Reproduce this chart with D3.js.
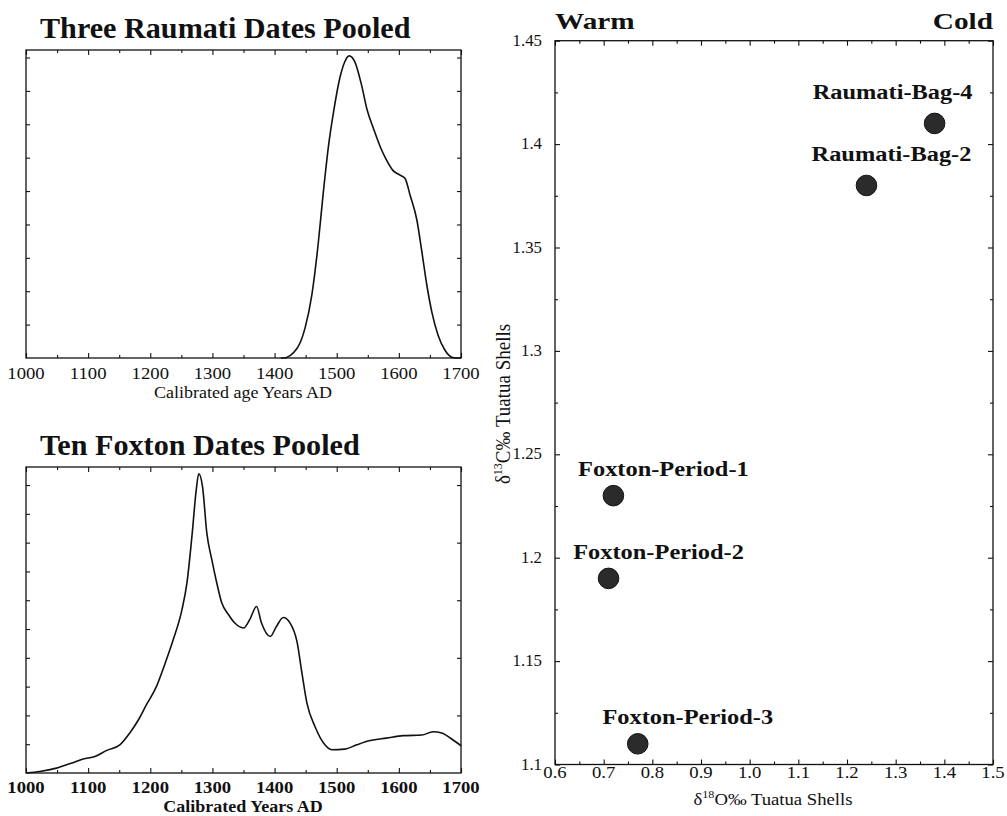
<!DOCTYPE html>
<html><head><meta charset="utf-8">
<script src="https://cdn.jsdelivr.net/npm/d3@7"></script>
<style>
body{margin:0;background:#fff}
svg{display:block}
text{font-family:"Liberation Serif","Times New Roman","DejaVu Serif",serif;fill:#111}
</style>
</head><body>
<svg id="chart" width="1007" height="816"></svg>
<script>
// ---------- DATA ----------
const yearTicks = [1000, 1100, 1200, 1300, 1400, 1500, 1600, 1700];

// Three Raumati dates pooled (relative probability, 0..1 of panel height)
const raumatiYears   = [1410, 1414, 1436, 1449, 1460, 1470, 1478, 1487, 1495, 1505, 1513, 1520, 1529, 1540, 1549, 1559, 1570, 1580, 1590, 1602, 1610, 1618, 1629, 1637, 1645, 1653, 1663, 1674, 1688, 1700];
const raumatiDensity = [0, 0, 0.031, 0.097, 0.205, 0.367, 0.529, 0.692, 0.800, 0.909, 0.962, 0.981, 0.962, 0.886, 0.805, 0.746, 0.686, 0.643, 0.610, 0.594, 0.583, 0.529, 0.448, 0.345, 0.237, 0.150, 0.075, 0.026, 0.001, 0];

// Ten Foxton dates pooled (relative probability, 0..1 of panel height)
const foxtonYears   = [1001, 1022, 1049, 1074, 1092, 1111, 1130, 1151, 1167, 1181, 1193, 1210, 1224, 1237, 1251, 1259, 1267, 1274, 1278, 1284, 1291, 1299, 1307, 1315, 1326, 1336, 1350, 1360, 1371, 1379, 1393, 1403, 1414, 1425, 1436, 1444, 1452, 1465, 1481, 1492, 1513, 1532, 1554, 1580, 1607, 1637, 1655, 1669, 1685, 1700];
const foxtonDensity = [0, 0.005, 0.016, 0.033, 0.046, 0.054, 0.074, 0.092, 0.131, 0.174, 0.220, 0.283, 0.359, 0.436, 0.534, 0.621, 0.773, 0.926, 0.978, 0.937, 0.784, 0.697, 0.621, 0.556, 0.517, 0.490, 0.474, 0.501, 0.544, 0.490, 0.446, 0.479, 0.508, 0.490, 0.430, 0.327, 0.229, 0.152, 0.092, 0.076, 0.078, 0.092, 0.106, 0.114, 0.122, 0.124, 0.135, 0.131, 0.111, 0.089];

// Isotope scatter
const sampleNames = ["Raumati-Bag-4", "Raumati-Bag-2", "Foxton-Period-1", "Foxton-Period-2", "Foxton-Period-3"];
const d18O = [1.38, 1.24, 0.72, 0.71, 0.77];
const d13C = [1.41, 1.38, 1.23, 1.19, 1.11];
const d18OTicks = [0.6, 0.7, 0.8, 0.9, 1.0, 1.1, 1.2, 1.3, 1.4, 1.5];
const d18OTickLabels = ["0.6", "0.7", "0.8", "0.9", "1.0", "1.1", "1.2", "1.3", "1.4", "1.5"];
const d13CTicks = [1.1, 1.15, 1.2, 1.25, 1.3, 1.35, 1.4, 1.45];
const d13CTickLabels = ["1.1", "1.15", "1.2", "1.25", "1.3", "1.35", "1.4", "1.45"];

// ---------- STYLE / LAYOUT ----------
const INK = "#111";
const labelStyle = { // label placement relative to point (px)
  "Raumati-Bag-4": [-42, -24],
  "Raumati-Bag-2": [25, -24],
  "Foxton-Period-1": [50, -20],
  "Foxton-Period-2": [50, -19],
  "Foxton-Period-3": [50, -20]
};

const svg = d3.select("#chart");

function txt(g, x, y, s, o) {
  o = o || {};
  return g.append("text")
    .attr("transform", `translate(${x},${y}) scale(${o.sx || 1},1)`)
    .attr("text-anchor", o.anchor || "middle")
    .attr("font-size", o.size || 16)
    .attr("font-weight", o.weight || "normal")
    .text(s);
}

function frame(g, x, y) {
  const [x0, x1] = x.range(), [y0, y1] = y.range();
  g.append("rect").attr("x", x0).attr("y", y1).attr("width", x1 - x0).attr("height", y0 - y1)
    .attr("fill", "none").attr("stroke", INK).attr("stroke-width", 1.3);
}

function styleAxis(sel) {
  sel.select(".domain").remove();
  sel.selectAll("line").attr("stroke", INK).attr("stroke-width", 1.1);
}

// ---------- LEFT DENSITY PANELS ----------
function densityPanel(cfg) {
  const g = svg.append("g");
  const x = d3.scaleLinear().domain([1000, 1700]).range([26, 461]);
  const y = d3.scaleLinear().domain([0, 1]).range([cfg.bottom, cfg.top]);
  const minor = d3.range(1050, 1700, 100);

  g.append("g").attr("transform", `translate(0,${cfg.bottom})`)
    .call(d3.axisBottom(x).tickValues(yearTicks).tickSize(-5).tickFormat("")).call(styleAxis);
  g.append("g").attr("transform", `translate(0,${cfg.bottom})`)
    .call(d3.axisBottom(x).tickValues(minor).tickSize(-3).tickFormat("")).call(styleAxis);
  g.append("g").attr("transform", `translate(0,${cfg.top})`)
    .call(d3.axisTop(x).tickValues(yearTicks).tickSize(-5).tickFormat("")).call(styleAxis);
  g.append("g").attr("transform", `translate(0,${cfg.top})`)
    .call(d3.axisTop(x).tickValues(minor).tickSize(-3).tickFormat("")).call(styleAxis);

  const yt = d3.range(cfg.yStep, 0.999, cfg.yStep);
  g.append("g").attr("transform", "translate(26,0)")
    .call(d3.axisLeft(y).tickValues(yt).tickSize(-4).tickFormat("")).call(styleAxis);
  g.append("g").attr("transform", "translate(461,0)")
    .call(d3.axisRight(y).tickValues(yt.filter((d, i) => i % cfg.rightEvery === cfg.rightEvery - 1)).tickSize(-4).tickFormat("")).call(styleAxis);

  frame(g, x, y);

  const line = d3.line().x((d, i) => x(cfg.years[i])).y(d => y(d)).curve(d3.curveMonotoneX);
  g.append("path").datum(cfg.values).attr("d", line)
    .attr("fill", "none").attr("stroke", INK).attr("stroke-width", 1.6);

  yearTicks.forEach(t => txt(g, x(t), cfg.bottom + cfg.tickGap, String(t), { size: 17, weight: cfg.bold ? "bold" : "normal", sx: 1.1 }));
  txt(g, 243, cfg.xTitleY, cfg.xTitle, { size: 17, weight: cfg.bold ? "bold" : "normal", sx: 1.06 });
  txt(g, 40, cfg.titleY, cfg.title, { size: 29, weight: "bold", anchor: "start", sx: 1.04 });
}

densityPanel({
  top: 50, bottom: 358, years: raumatiYears, values: raumatiDensity,
  yStep: 0.1084, rightEvery: 1, bold: false, tickGap: 21,
  title: "Three Raumati Dates Pooled", titleY: 38,
  xTitle: "Calibrated age Years AD", xTitleY: 398
});
densityPanel({
  top: 467, bottom: 773, years: foxtonYears, values: foxtonDensity,
  yStep: 0.0941, rightEvery: 2, bold: true, tickGap: 20,
  title: "Ten Foxton Dates Pooled", titleY: 455,
  xTitle: "Calibrated Years AD", xTitleY: 812
});

// ---------- RIGHT SCATTER PANEL ----------
(function () {
  const g = svg.append("g");
  const x = d3.scaleLinear().domain([0.6, 1.5]).range([555, 993]);
  const y = d3.scaleLinear().domain([1.1, 1.45]).range([764.5, 40.7]);
  const xMinor = d3.range(0.65, 1.5, 0.1);
  const yMinor = d3.range(1.125, 1.45, 0.05);

  g.append("g").attr("transform", "translate(0,764.5)")
    .call(d3.axisBottom(x).tickValues(d18OTicks).tickSize(-5).tickFormat("")).call(styleAxis);
  g.append("g").attr("transform", "translate(0,764.5)")
    .call(d3.axisBottom(x).tickValues(xMinor).tickSize(-3).tickFormat("")).call(styleAxis);
  g.append("g").attr("transform", "translate(0,40.7)")
    .call(d3.axisTop(x).tickValues(d18OTicks).tickSize(-5).tickFormat("")).call(styleAxis);
  g.append("g").attr("transform", "translate(0,40.7)")
    .call(d3.axisTop(x).tickValues(xMinor).tickSize(-3).tickFormat("")).call(styleAxis);
  g.append("g").attr("transform", "translate(555,0)")
    .call(d3.axisLeft(y).tickValues(d13CTicks).tickSize(-5).tickFormat("")).call(styleAxis);
  g.append("g").attr("transform", "translate(555,0)")
    .call(d3.axisLeft(y).tickValues(yMinor).tickSize(-3).tickFormat("")).call(styleAxis);
  g.append("g").attr("transform", "translate(993,0)")
    .call(d3.axisRight(y).tickValues(d13CTicks).tickSize(-5).tickFormat("")).call(styleAxis);
  g.append("g").attr("transform", "translate(993,0)")
    .call(d3.axisRight(y).tickValues(yMinor).tickSize(-3).tickFormat("")).call(styleAxis);

  frame(g, x, y);

  d18OTicks.forEach((t, i) => txt(g, x(t), 778, d18OTickLabels[i], { size: 17, sx: 1.1 }));
  d13CTicks.forEach((t, i) => txt(g, 542, y(t) + 5, d13CTickLabels[i], { size: 16, sx: 1.05, anchor: "end" }));

  const xt = txt(g, 773, 805, "", { size: 17, sx: 1.1 });
  xt.append("tspan").text("δ");
  xt.append("tspan").attr("font-size", 11).attr("dy", -7).text("18");
  xt.append("tspan").attr("dy", 7).text("O‰ Tuatua Shells");

  const yt = g.append("text").attr("transform", "translate(510,404) scale(1.05,1) rotate(-90)")
    .attr("text-anchor", "middle").attr("font-size", 19);
  yt.append("tspan").text("δ");
  yt.append("tspan").attr("font-size", 12).attr("dy", -8).text("13");
  yt.append("tspan").attr("dy", 8).text("C‰ Tuatua Shells");

  txt(g, 555, 29, "Warm", { size: 24, weight: "bold", anchor: "start", sx: 1.22 });
  txt(g, 993, 29, "Cold", { size: 24, weight: "bold", anchor: "end", sx: 1.22 });

  sampleNames.forEach((name, i) => {
    const cx = x(d18O[i]), cy = y(d13C[i]);
    g.append("circle").attr("cx", cx).attr("cy", cy).attr("r", 10.3)
      .attr("fill", "#2b2b2b").attr("stroke", "#111").attr("stroke-width", 1);
    const [dx, dy] = labelStyle[name];
    txt(g, cx + dx, cy + dy, name, { size: 20, weight: "bold", sx: 1.22 });
  });
})();
</script>
</body></html>
